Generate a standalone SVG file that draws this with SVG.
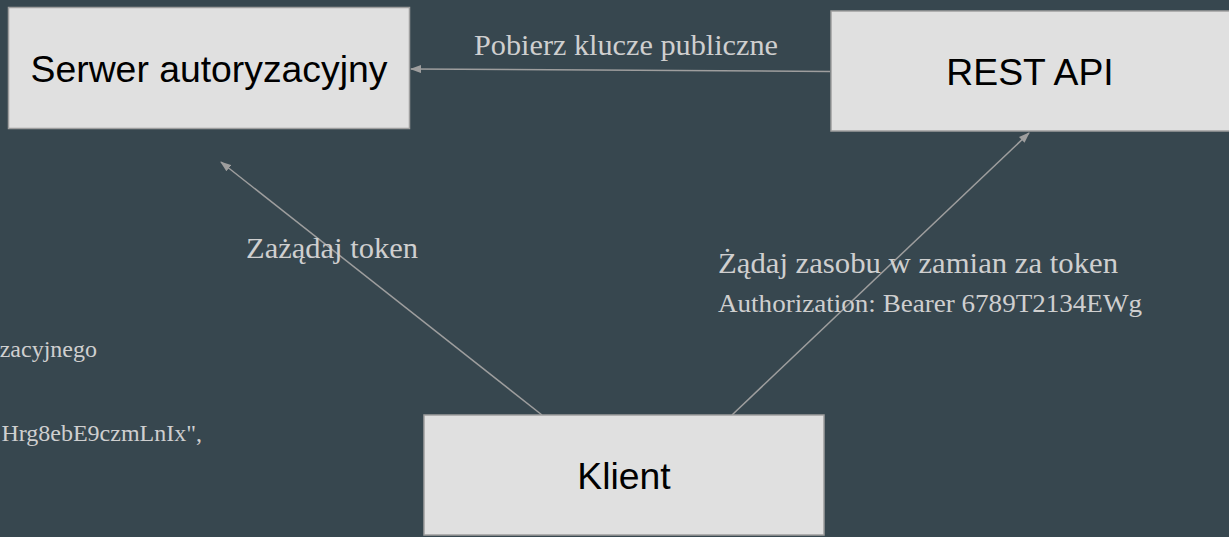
<svg xmlns="http://www.w3.org/2000/svg" width="1229" height="537" viewBox="0 0 1229 537">
<style>
.box{fill:#e0e0e0;stroke:#9e9e9e;stroke-width:1.5}
.nt{font-family:"Liberation Sans",Arial,sans-serif;font-size:37.33px;fill:#000;text-anchor:middle}
.lbl{font-family:"Liberation Serif","Times New Roman",serif;fill:#cfcfcf}
.conn{stroke:#9e9e9e;stroke-width:1.5;fill:none}
</style>
<defs>
<marker id="ah" markerUnits="userSpaceOnUse" markerWidth="11" markerHeight="8" refX="10" refY="4" orient="auto">
<path d="M0,0 L11,4 L0,8 z" fill="#9e9e9e"/>
</marker>
</defs>
<rect width="1229" height="537" fill="#37474f"/>
<g id="connectors">
<line class="conn" x1="830" y1="71.5" x2="411" y2="69" marker-end="url(#ah)"/>
<line class="conn" x1="542" y1="415" x2="221" y2="162" marker-end="url(#ah)"/>
<line class="conn" x1="732" y1="415" x2="1029" y2="133" marker-end="url(#ah)"/>
</g>
<g id="labels">
<text class="lbl" x="474" y="55" font-size="29" textLength="304" lengthAdjust="spacingAndGlyphs">Pobierz klucze publiczne</text>
<text class="lbl" x="246" y="258" font-size="29" textLength="172" lengthAdjust="spacingAndGlyphs">Zażądaj token</text>
<text class="lbl" x="718" y="273" font-size="29" textLength="400" lengthAdjust="spacingAndGlyphs">Żądaj zasobu w zamian za token</text>
<text class="lbl" x="718" y="312" font-size="25" textLength="424" lengthAdjust="spacingAndGlyphs">Authorization: Bearer 6789T2134EWg</text>
<text class="lbl" x="97" y="357" font-size="24" text-anchor="end">zacyjnego</text>
<text class="lbl" x="202" y="441" font-size="24" text-anchor="end">Hrg8ebE9czmLnIx",</text>
</g>
<g id="node-serwer">
<rect class="box" x="8.5" y="7.5" width="401" height="121"/>
<text class="nt" x="209" y="82">Serwer autoryzacyjny</text>
</g>
<g id="node-rest">
<rect class="box" x="831" y="11" width="402" height="120"/>
<text class="nt" x="1030" y="85">REST API</text>
</g>
<g id="node-klient">
<rect class="box" x="424" y="415" width="400" height="120"/>
<text class="nt" x="624" y="489">Klient</text>
</g>
</svg>
